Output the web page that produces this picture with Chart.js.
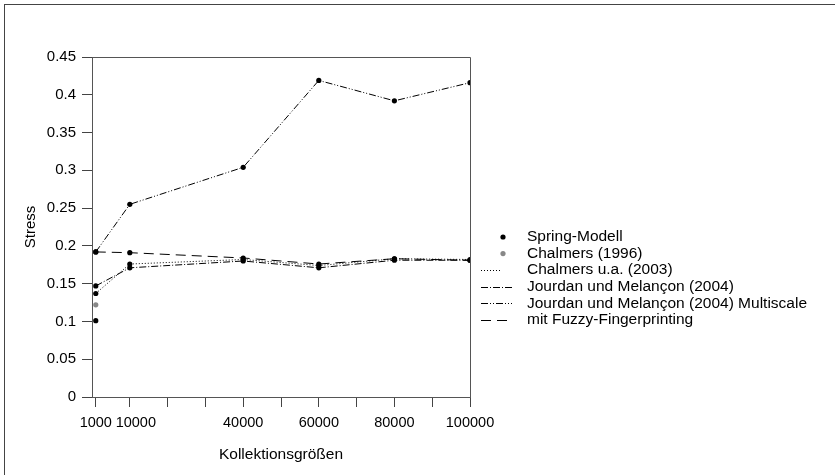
<!DOCTYPE html>
<html>
<head>
<meta charset="utf-8">
<script src="https://cdn.jsdelivr.net/npm/chart.js@4"></script>
<style>
  html, body { margin: 0; padding: 0; background: #fff; }
  #wrap { position: relative; width: 835px; height: 475px; }
  #frame { position: absolute; left: 4px; top: 4px; width: 840px; height: 480px;
           border-top: 1px solid #444; border-left: 1px solid #444; }
  canvas { position: absolute; left: 0; top: 0; }
</style>
</head>
<body>
<div id="wrap">
  <div id="frame"></div>
  <canvas id="mycanvas" width="835" height="475"></canvas>
</div>
<script>
// collection sizes
var sizes = [1000, 10000, 40000, 60000, 80000, 100000];
var xTicks = [1000, 10000, 20000, 30000, 40000, 50000, 60000, 70000, 80000, 90000, 100000];
var xLabels = [1000, 10000, 40000, 60000, 80000, 100000];

// stress values per method (null = not measured)
var springModell = [0.101, null, null, null, null, null];
var chalmers1996 = [0.122, null, null, null, null, null];
var chalmers2003 = [0.137, 0.176, 0.182, 0.174, 0.183, 0.182];
var jourdan2004 = [0.147, 0.171, 0.180, 0.171, 0.181, 0.181];
var jourdanMulti = [0.192, 0.255, 0.304, 0.419, 0.392, 0.416];
var fuzzyFinger = [0.192, 0.191, 0.184, 0.176, 0.183, 0.181];

var FONT = "'Liberation Sans', Arial, sans-serif";

function pts(vals) {
	var out = [];
	for (var i in vals) {
		if (vals[i] !== null) out.push({x: sizes[i], y: vals[i]});
	}
	return out;
}

function series(label, vals, dash, color, showLine) {
	return {
		label: label,
		data: pts(vals),
		showLine: showLine,
		fill: false,
		borderColor: "#000",
		borderWidth: 1,
		borderDash: dash,
		pointRadius: 2.6,
		pointBorderWidth: 0,
		pointBackgroundColor: color,
		pointBorderColor: color
	};
}

var chartdata = {
	datasets: [
		series("Spring-Modell", springModell, [], "#000", false),
		series("Chalmers (1996)", chalmers1996, [], "#888", false),
		series("Chalmers u.a. (2003)", chalmers2003, [1, 2], "#000", true),
		series("Jourdan und Melançon (2004)", jourdan2004, [7, 2, 1, 2], "#000", true),
		series("Jourdan und Melançon (2004) Multiscale", jourdanMulti, [7, 2, 1, 2, 1, 2], "#000", true),
		series("mit Fuzzy-Fingerprinting", fuzzyFinger, [10, 6], "#000", true)
	]
};

// box around plot + legend on the right
var extras = {
	id: "extras",
	afterDraw: function(chart) {
		var ctx = chart.ctx;
		var a = chart.chartArea;
		ctx.save();
		ctx.strokeStyle = "#555";
		ctx.lineWidth = 1;
		ctx.setLineDash([]);
		ctx.beginPath();
		ctx.moveTo(a.left, a.top + 0.5);
		ctx.lineTo(a.right + 0.5, a.top + 0.5);
		ctx.lineTo(a.right + 0.5, a.bottom);
		ctx.stroke();

		ctx.font = "15.5px " + FONT;
		ctx.fillStyle = "#000";
		ctx.textBaseline = "middle";
		var ds = chart.data.datasets;
		for (var i = 0; i < ds.length; i++) {
			var y = 237 + i * 16.6;
			if (!ds[i].showLine) {
				ctx.fillStyle = ds[i].pointBackgroundColor;
				ctx.beginPath();
				ctx.arc(503, y, 2.6, 0, Math.PI * 2);
				ctx.fill();
			} else {
				ctx.strokeStyle = "#000";
				ctx.setLineDash(ds[i].borderDash);
				ctx.beginPath();
				ctx.moveTo(481, Math.round(y) + 0.5);
				ctx.lineTo(i == 2 ? 502 : 512, Math.round(y) + 0.5);
				ctx.stroke();
			}
			ctx.setLineDash([]);
			ctx.fillStyle = "#000";
			ctx.fillText(ds[i].label, 527, y);
		}
		ctx.restore();
	}
};

var ctx = document.getElementById("mycanvas");

var LineGraph = new Chart(ctx, {
	type: "scatter",
	data: chartdata,
	plugins: [extras],
	options: {
		responsive: false,
		animation: false,
		layout: { padding: { left: 0, top: 57, right: 365, bottom: 0 } },
		plugins: { legend: { display: false }, tooltip: { enabled: false } },
		scales: {
			x: {
				type: "linear",
				min: 0,
				max: 100000,
				afterFit: function(s) { s.height = 78; },
				afterBuildTicks: function(s) {
					s.ticks = xTicks.map(function(v) { return {value: v}; });
				},
				ticks: {
					autoSkip: false,
					maxRotation: 0,
					padding: 7,
					color: "#000",
					font: { family: FONT, size: 14.5 },
					callback: function(v) {
						if (v == 10000) return "   10000";
						return xLabels.indexOf(v) >= 0 ? String(v) : "";
					}
				},
				grid: { drawOnChartArea: false, tickLength: 10, color: "#444", lineWidth: 1 },
				border: { display: true, color: "#555", width: 1 },
				title: { display: true, text: "Kollektionsgrößen", color: "#000",
					font: { family: FONT, size: 15.5 }, padding: { top: 4, bottom: 11 } }
			},
			y: {
				min: 0,
				max: 0.45,
				afterFit: function(s) { s.width = 92; },
				ticks: {
					stepSize: 0.05,
					padding: 6,
					color: "#000",
					font: { family: FONT, size: 15 },
					callback: function(v) { return String(Math.round(v * 100) / 100); }
				},
				grid: { drawOnChartArea: false, tickLength: 10, color: "#444", lineWidth: 1 },
				border: { display: true, color: "#555", width: 1 },
				title: { display: true, text: "Stress", color: "#000",
					font: { family: FONT, size: 15 }, padding: { top: 22, bottom: 0 } }
			}
		}
	}
});
</script>
</body>
</html>
